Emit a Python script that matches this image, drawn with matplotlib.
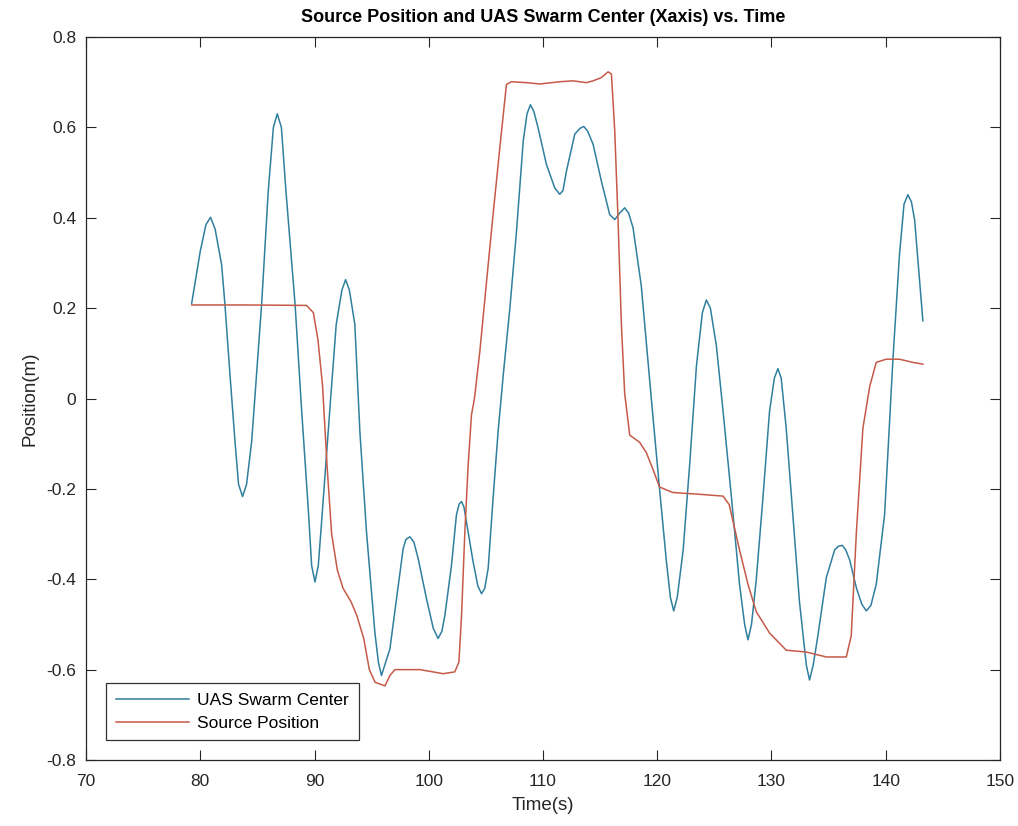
import matplotlib
matplotlib.use("Agg")
import matplotlib.pyplot as plt

plt.rcParams['font.family'] = ['Liberation Sans', 'DejaVu Sans']

# UAS swarm center (x axis)
swarm_t = [79.25, 80.0, 80.5, 80.9, 81.3, 81.87, 82.16, 82.6, 83.04, 83.35, 83.7, 84.05,
           84.5, 85.37, 85.95, 86.4, 86.74, 87.1, 87.5, 88.3, 88.86, 89.45, 89.75, 90.04,
           90.33, 90.6, 91.35, 91.9, 92.4, 92.72, 93.05, 93.53, 93.97, 94.55, 95.28,
           95.6, 95.86, 96.15, 96.6, 97.18, 97.76, 98.0, 98.35, 98.7, 99.07, 99.8,
           100.4, 100.82, 101.15, 101.41, 101.99, 102.42, 102.65, 102.87, 103.08,
           103.3, 103.88, 104.3, 104.62, 104.9, 105.2, 105.63, 106.07, 106.55, 107.1,
           107.68, 108.27, 108.6, 108.9, 109.2, 109.57, 110.3, 111.03, 111.46, 111.75,
           112.05, 112.78, 113.25, 113.57, 113.9, 114.38, 115.11, 115.84, 116.28,
           116.7, 117.15, 117.5, 117.88, 118.6, 119.48, 120.2, 120.8, 121.15, 121.44,
           121.75, 122.27, 122.85, 123.43, 123.95, 124.3, 124.65, 125.17, 125.76,
           126.5, 127.2, 127.65, 127.94, 128.25, 128.67, 129.25, 129.83, 130.25,
           130.56, 130.85, 131.29, 131.87, 132.45, 133.05, 133.33, 133.65, 134.06,
           134.8, 135.53, 135.85, 136.2, 136.5, 136.84, 137.43, 137.9, 138.3, 138.7,
           139.17, 139.9, 140.63, 141.2, 141.6, 141.94, 142.25, 142.53, 143.25]
swarm_x = [0.211, 0.326, 0.385, 0.401, 0.375, 0.296, 0.208, 0.053, -0.095, -0.19, -0.217, -0.19,
           -0.095, 0.208, 0.459, 0.60, 0.630, 0.60, 0.459, 0.208, -0.021, -0.243, -0.37, -0.406,
           -0.37, -0.28, -0.021, 0.164, 0.24, 0.263, 0.24, 0.164, -0.073, -0.295, -0.517,
           -0.585, -0.613, -0.59, -0.554, -0.443, -0.332, -0.312, -0.306, -0.318, -0.354, -0.443,
           -0.509, -0.531, -0.515, -0.48, -0.369, -0.258, -0.234, -0.228, -0.24,
           -0.273, -0.361, -0.415, -0.432, -0.42, -0.376, -0.221, -0.073, 0.06, 0.2,
           0.37, 0.57, 0.63, 0.65, 0.635, 0.599, 0.518, 0.466, 0.452, 0.46,
           0.503, 0.585, 0.598, 0.602, 0.592, 0.563, 0.481, 0.407, 0.396,
           0.41, 0.422, 0.41, 0.378, 0.25, 0.0, -0.2, -0.36, -0.44, -0.47,
           -0.44, -0.335, -0.142, 0.072, 0.19, 0.218, 0.2, 0.118, -0.028,
           -0.22, -0.411, -0.5, -0.534, -0.5, -0.4, -0.22, -0.028, 0.045,
           0.066, 0.045, -0.066, -0.257, -0.45, -0.59, -0.623, -0.59, -0.525,
           -0.396, -0.335, -0.327, -0.325, -0.335, -0.357, -0.419, -0.455, -0.47, -0.458,
           -0.411, -0.257, 0.087, 0.317, 0.43, 0.451, 0.435, 0.395, 0.172]

# source position (x axis)
source_t = [79.25, 84.0, 89.3, 89.9, 90.3, 90.7, 91.1, 91.5, 92.0, 92.5, 93.2, 93.7,
            94.3, 94.8, 95.3, 96.17, 96.6, 97.04, 99.23, 101.26, 102.28, 102.64,
            102.87, 103.16, 103.45, 103.74, 104.0, 104.47, 105.2, 105.63, 106.22,
            106.8, 107.24, 108.55, 109.72, 111.46, 112.63, 113.8, 114.38, 115.1,
            115.7, 115.99, 116.28, 116.57, 116.86, 117.15, 117.59, 118.46, 119.05,
            119.63, 120.2, 121.37, 123.7, 125.76, 126.3, 127.2, 127.94, 128.67,
            129.83, 131.29, 133.04, 134.8, 136.55, 136.98, 137.43, 138.0, 138.6,
            139.17, 140.05, 141.2, 142.36, 143.25]
source_x = [0.207, 0.207, 0.206, 0.19, 0.13, 0.03, -0.15, -0.3, -0.38, -0.42, -0.45, -0.48,
            -0.53, -0.6, -0.628, -0.636, -0.613, -0.6, -0.6, -0.609, -0.605, -0.583,
            -0.48, -0.295, -0.147, -0.036, 0.0, 0.104, 0.296, 0.407, 0.555,
            0.695, 0.701, 0.699, 0.696, 0.701, 0.703, 0.699, 0.703, 0.71,
            0.723, 0.718, 0.592, 0.395, 0.164, 0.011, -0.081, -0.097, -0.12,
            -0.157, -0.196, -0.208, -0.212, -0.216, -0.235, -0.335, -0.411, -0.472,
            -0.519, -0.557, -0.561, -0.572, -0.572, -0.525, -0.296, -0.066, 0.027,
            0.08, 0.087, 0.087, 0.08, 0.076]

x_ticks = [70, 80, 90, 100, 110, 120, 130, 140, 150]
y_ticks = [-0.8, -0.6, -0.4, -0.2, 0, 0.2, 0.4, 0.6, 0.8]
y_tick_labels = ["-0.8", "-0.6", "-0.4", "-0.2", "0", "0.2", "0.4", "0.6", "0.8"]

axis_col = "#262626"

fig = plt.figure(figsize=(10.18, 8.26), dpi=100)
ax = fig.add_axes([0.0845, 0.0799, 0.8978, 0.8753])

ax.plot(swarm_t, swarm_x, color="#2f7f9e", linewidth=1.1, label="UAS Swarm Center")
ax.plot(source_t, source_x, color="#c65a48", linewidth=1.1, label="Source Position")

ax.set_xlim(70, 150)
ax.set_ylim(-0.8, 0.8)
ax.set_xticks(x_ticks)
ax.set_yticks(y_ticks)
ax.set_yticklabels(y_tick_labels)
ax.tick_params(direction="in", length=7, width=0.8, top=True, right=True,
               labelsize=12.5, colors=axis_col)
ax.tick_params(axis="x", pad=10)
ax.tick_params(axis="y", pad=7)
for s in ax.spines.values():
    s.set_color(axis_col)
    s.set_linewidth(0.9)

ax.set_xlabel("Time(s)", fontsize=13.5, color=axis_col, labelpad=6)
ax.set_ylabel("Position(m)", fontsize=13.5, color=axis_col, labelpad=6)
ax.set_title("Source Position and UAS Swarm Center (Xaxis) vs. Time",
             fontsize=13, fontweight="bold", color="black", pad=11)

leg = ax.legend(loc="lower left", bbox_to_anchor=(0.022, 0.027), fontsize=12.5,
                handlelength=4.2, frameon=True, fancybox=False, borderpad=0.55,
                labelspacing=0.45, handletextpad=0.5, borderaxespad=0)
leg.get_frame().set_edgecolor("black")
leg.get_frame().set_linewidth(0.9)

fig.savefig("out.png", dpi=100)
